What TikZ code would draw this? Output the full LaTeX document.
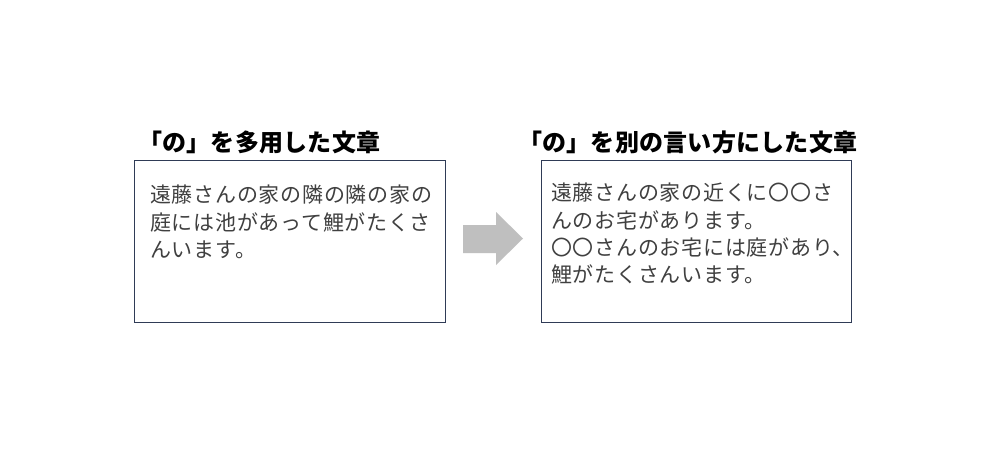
\documentclass[tikz,border=0pt]{standalone}
\usepackage{fontspec}
\newfontfamily\jpbody[LetterSpace=3.5]{Noto Sans CJK JP}
\newfontfamily\jptitle[LetterSpace=1]{Noto Sans CJK JP}
\definecolor{boxline}{HTML}{2F3B56}
\definecolor{bodytext}{HTML}{404040}
\definecolor{arrowgray}{HTML}{BFBFBF}
\tikzset{
  textbox/.style={draw=boxline, line width=0.9pt, fill=white, inner sep=0pt},
  bodyline/.style={anchor=base west, inner sep=0pt, text=bodytext, font=\jpbody\fontsize{21}{24}\selectfont},
  titletext/.style={anchor=base west, inner sep=0pt, text=black, font=\jptitle\bfseries\fontsize{24}{28}\selectfont},
}
\begin{document}
\begin{tikzpicture}[x=1pt,y=-1pt]
\useasboundingbox (0,0) rectangle (1000,451);
\fill[white] (0,0) rectangle (1000,451);
% boxes
\node[textbox, minimum width=311pt, minimum height=162pt] (lbox) at (289.5,241) {};
\node[textbox, minimum width=310pt, minimum height=162pt] (rbox) at (696,241) {};
% titles
\node[titletext] (ltitle) at (138,151) {「の」を多用した文章};
\node[titletext] (rtitle) at (518,151) {「の」を別の言い方にした文章};
% left text
\node[bodyline] (l1) at (150,202) {遠藤さんの家の隣の隣の家の};
\node[bodyline] (l2) at (150,230) {庭には池があって鯉がたくさ};
\node[bodyline] (l3) at (150,257) {んいます。};
% right text
\node[bodyline] (r1) at (551,200) {遠藤さんの家の近くに〇〇さ};
\node[bodyline] (r2) at (551,228) {んのお宅があります。};
\node[bodyline] (r3) at (551,255) {〇〇さんのお宅には庭があり、};
\node[bodyline] (r4) at (551,282) {鯉がたくさんいます。};
% arrow
\fill[arrowgray] (463,225) -- (496,225) -- (496,212) -- (523,238.5) -- (496,265) -- (496,253) -- (463,253) -- cycle;
\end{tikzpicture}
\end{document}
